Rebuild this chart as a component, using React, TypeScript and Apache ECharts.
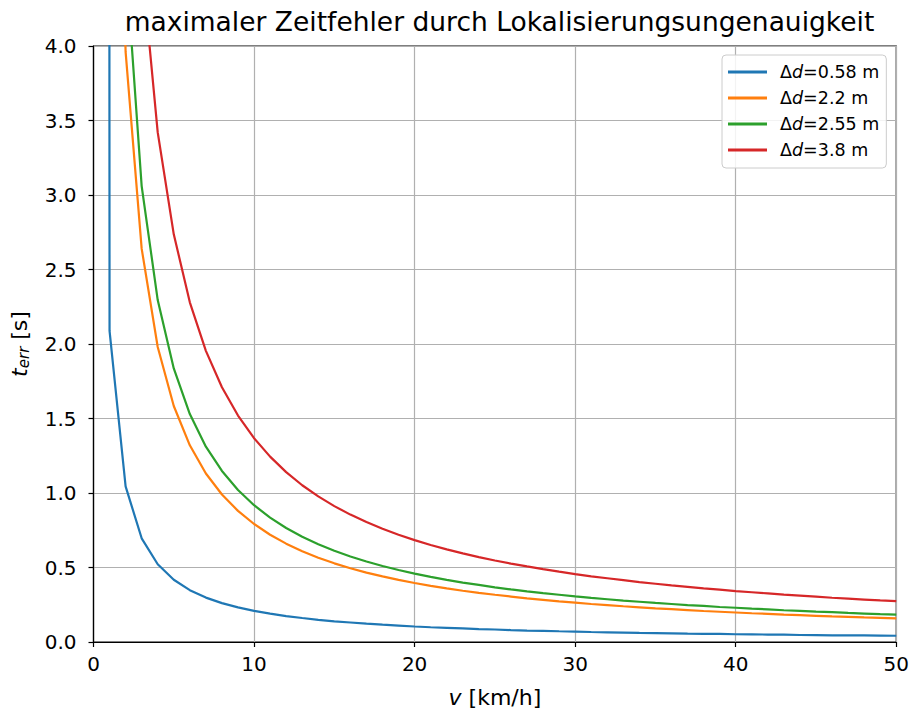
import React, { useEffect, useRef } from "react";
import * as echarts from "echarts";

// Speed in km/h (first sample just above zero)
const speeds = [0.01, 1, 2, 3, 4, 5, 6, 7, 8, 9, 10, 11, 12, 13, 14, 15, 16, 17, 18, 19, 20, 21, 22, 23, 24, 25, 26, 27, 28, 29, 30, 31, 32, 33, 34, 35, 36, 37, 38, 39, 40, 41, 42, 43, 44, 45, 46, 47, 48, 49, 50];

// Maximum time error in seconds for each localisation uncertainty
const err058 = [208.8, 2.088, 1.044, 0.696, 0.522, 0.418, 0.348, 0.298, 0.261, 0.232, 0.209, 0.19, 0.174, 0.161, 0.149, 0.139, 0.131, 0.123, 0.116, 0.11, 0.104, 0.099, 0.095, 0.091, 0.087, 0.084, 0.08, 0.077, 0.075, 0.072, 0.07, 0.067, 0.065, 0.063, 0.061, 0.06, 0.058, 0.056, 0.055, 0.054, 0.052, 0.051, 0.05, 0.049, 0.047, 0.046, 0.045, 0.044, 0.044, 0.043, 0.042];
const err220 = [792, 7.92, 3.96, 2.64, 1.98, 1.584, 1.32, 1.131, 0.99, 0.88, 0.792, 0.72, 0.66, 0.609, 0.566, 0.528, 0.495, 0.466, 0.44, 0.417, 0.396, 0.377, 0.36, 0.344, 0.33, 0.317, 0.305, 0.293, 0.283, 0.273, 0.264, 0.255, 0.248, 0.24, 0.233, 0.226, 0.22, 0.214, 0.208, 0.203, 0.198, 0.193, 0.189, 0.184, 0.18, 0.176, 0.172, 0.169, 0.165, 0.162, 0.158];
const err255 = [918, 9.18, 4.59, 3.06, 2.295, 1.836, 1.53, 1.311, 1.148, 1.02, 0.918, 0.835, 0.765, 0.706, 0.656, 0.612, 0.574, 0.54, 0.51, 0.483, 0.459, 0.437, 0.417, 0.399, 0.383, 0.367, 0.353, 0.34, 0.328, 0.317, 0.306, 0.296, 0.287, 0.278, 0.27, 0.262, 0.255, 0.248, 0.242, 0.235, 0.23, 0.224, 0.219, 0.213, 0.209, 0.204, 0.2, 0.195, 0.191, 0.187, 0.184];
const err380 = [1368, 13.68, 6.84, 4.56, 3.42, 2.736, 2.28, 1.954, 1.71, 1.52, 1.368, 1.244, 1.14, 1.052, 0.977, 0.912, 0.855, 0.805, 0.76, 0.72, 0.684, 0.651, 0.622, 0.595, 0.57, 0.547, 0.526, 0.507, 0.489, 0.472, 0.456, 0.441, 0.428, 0.415, 0.402, 0.391, 0.38, 0.37, 0.36, 0.351, 0.342, 0.334, 0.326, 0.318, 0.311, 0.304, 0.297, 0.291, 0.285, 0.279, 0.274];

const distances = ["0.58", "2.2", "2.55", "3.8"];
const seriesValues = [err058, err220, err255, err380];
const colors = ["#1f77b4", "#ff7f0e", "#2ca02c", "#d62728"];

const FONT = "DejaVu Sans";

export default function App() {
  const ref = useRef<HTMLDivElement>(null);

  useEffect(() => {
    if (!ref.current) return;
    const chart = echarts.init(ref.current, undefined, { renderer: "svg" });

    const series = distances.map((d, i) => ({
      name: d,
      type: "line",
      data: speeds.map((v, j) => [v, seriesValues[i][j]]),
      showSymbol: false,
      symbol: "none",
      clip: true,
      color: colors[i],
      lineStyle: { width: 2.2, color: colors[i] },
      z: 3,
    }));

    chart.setOption({
      animation: false,
      backgroundColor: "#ffffff",
      textStyle: { fontFamily: FONT, color: "#000" },
      title: {
        text: "maximaler Zeitfehler durch Lokalisierungsungenauigkeit",
        left: 494.5,
        textAlign: "center",
        top: 3,
        textStyle: { fontFamily: FONT, fontSize: 26.5, fontWeight: "normal", color: "#000" },
      },
      grid: {
        left: 92.5,
        right: 15.5,
        top: 46,
        bottom: 68,
        show: true,
        borderColor: "#000",
        borderWidth: 1.2,
        backgroundColor: "transparent",
      },
      legend: {
        orient: "vertical",
        left: 722,
        top: 55,
        padding: [7, 7, 8, 6],
        itemWidth: 39,
        itemHeight: 3,
        itemGap: 6,
        icon: "rect",
        backgroundColor: "rgba(255,255,255,0.85)",
        borderColor: "#cccccc",
        borderWidth: 1,
        borderRadius: 4,
        data: distances,
        formatter: (name: string) => `{n|Δ}{i|d}{n|=${name} m}`,
        textStyle: {
          fontFamily: FONT,
          fontSize: 17.5,
          color: "#000",
          lineHeight: 20,
          padding: [0, 0, 0, 8],
          rich: {
            n: { fontFamily: FONT, fontSize: 17.5, color: "#000", lineHeight: 20 },
            i: { fontFamily: FONT, fontSize: 17.5, fontStyle: "italic", color: "#000", lineHeight: 20 },
          },
        },
      },
      xAxis: {
        type: "value",
        min: 0,
        max: 50,
        interval: 10,
        name: "{i|v}{n| [km/h]}",
        nameLocation: "middle",
        nameGap: 44,
        nameTextStyle: {
          rich: {
            i: { fontFamily: FONT, fontSize: 22, fontStyle: "italic", color: "#000" },
            n: { fontFamily: FONT, fontSize: 22, color: "#000" },
          },
        },
        axisLine: { show: true, onZero: false, lineStyle: { color: "#000", width: 1.2 } },
        axisTick: { show: true, inside: false, length: 5, lineStyle: { color: "#000", width: 1.2 } },
        axisLabel: { fontFamily: FONT, fontSize: 20, color: "#000", margin: 12 },
        splitLine: { show: true, lineStyle: { color: "#b0b0b0", width: 1.2 } },
      },
      yAxis: {
        type: "value",
        min: 0,
        max: 4,
        interval: 0.5,
        name: "{i|t}{s|err}{n| [s]}",
        nameLocation: "middle",
        nameGap: 62,
        nameRotate: 90,
        nameTextStyle: {
          rich: {
            i: { fontFamily: FONT, fontSize: 22, fontStyle: "italic", color: "#000" },
            s: { fontFamily: FONT, fontSize: 15, fontStyle: "italic", color: "#000", verticalAlign: "bottom", padding: [10, 0, 0, 0] },
            n: { fontFamily: FONT, fontSize: 22, color: "#000" },
          },
        },
        axisLine: { show: true, lineStyle: { color: "#000", width: 1.2 } },
        axisTick: { show: true, inside: false, length: 5, lineStyle: { color: "#000", width: 1.2 } },
        axisLabel: {
          fontFamily: FONT,
          fontSize: 20,
          color: "#000",
          margin: 17,
          formatter: (v: number) => v.toFixed(1),
        },
        splitLine: { show: true, lineStyle: { color: "#b0b0b0", width: 1.2 } },
      },
      series,
    });

    return () => chart.dispose();
  }, []);

  return (
    <div
      ref={ref}
      style={{ position: "fixed", left: 0, top: 0, width: 912, height: 713 }}
    />
  );
}
